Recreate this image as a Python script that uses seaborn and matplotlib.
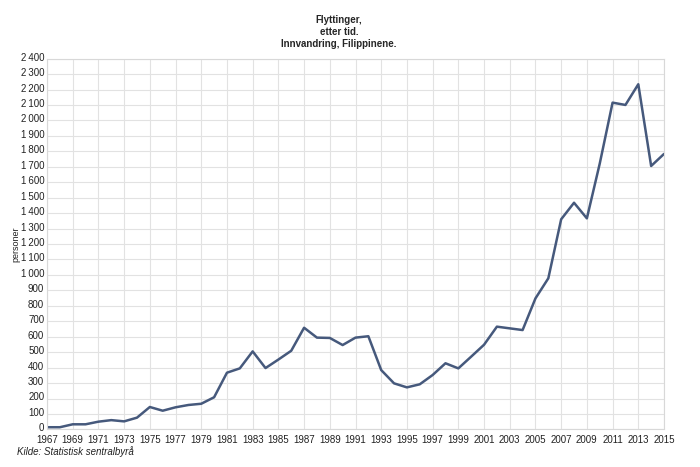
import matplotlib
matplotlib.use("Agg")
import matplotlib.pyplot as plt
import matplotlib.transforms as mtransforms
import seaborn as sns
import pandas as pd
from matplotlib.ticker import FuncFormatter, MultipleLocator, FixedLocator

years = list(range(1967, 2016))
values = [14, 14, 33, 33, 50, 60, 52, 76, 145, 121, 143, 158, 166, 208,
          367, 395, 505, 397, 452, 509, 658, 594, 592, 546, 594, 603,
          384, 298, 272, 292, 352, 428, 395, 471, 548, 665, 654, 643,
          848, 978, 1360, 1467, 1366, 1720, 2115, 2100, 2234, 1705, 1783]
xtick_years = years[::2]

title_lines = ["Flyttinger,", "etter tid.", "Innvandring, Filippinene."]
ylabel = "personer"
source = "Kilde: Statistisk sentralbyrå"

df = pd.DataFrame({"år": years, "personer": values})

sns.set_theme(style="white")
plt.rcParams["font.family"] = ["Liberation Sans", "DejaVu Sans"]

fig = plt.figure(figsize=(7, 4.67), dpi=100)
ax = fig.add_axes([47 / 700, (467 - 429.4) / 467, (664 - 47) / 700, (429.4 - 58.6) / 467])

sns.lineplot(data=df, x="år", y="personer", ax=ax, color="#46597c", linewidth=1.8)

ax.set_xlim(1967, 2015)
ax.set_ylim(0, 2400)
ax.xaxis.set_major_locator(FixedLocator(xtick_years))
ax.yaxis.set_major_locator(MultipleLocator(100))
ax.yaxis.set_major_formatter(FuncFormatter(lambda v, p: f"{int(v):,}".replace(",", "\u2009")))
ax.xaxis.set_major_formatter(FuncFormatter(lambda v, p: f"{int(v)}"))
ax.grid(True, color="#e2e2e2", linewidth=0.8)
ax.set_axisbelow(True)
for s in ax.spines.values():
    s.set_color("#d8d8d8")
    s.set_linewidth(0.8)
ax.tick_params(axis="both", length=0, labelsize=7, colors="#222222")
ax.tick_params(axis="x", pad=4)
ax.tick_params(axis="y", pad=2)
ax.set_xlabel("")
ax.set_ylabel(ylabel, fontsize=6.5, color="#222222", labelpad=3)
ax.yaxis.set_label_coords(-(47 - 20) / 617, 0.5)

shift = mtransforms.ScaledTranslation(0, 2 / 100, fig.dpi_scale_trans)
for lbl in ax.get_yticklabels():
    lbl.set_transform(lbl.get_transform() + shift)

fig.text(339 / 700, 1 - 32 / 467, "\n".join(title_lines), ha="center", va="center",
         fontsize=7, fontweight="bold", linespacing=1.2)
fig.text(17 / 700, 1 - 452 / 467, source, ha="left", va="center", fontsize=7,
         style="italic", color="#222222")

fig.savefig("out.png", dpi=100)
